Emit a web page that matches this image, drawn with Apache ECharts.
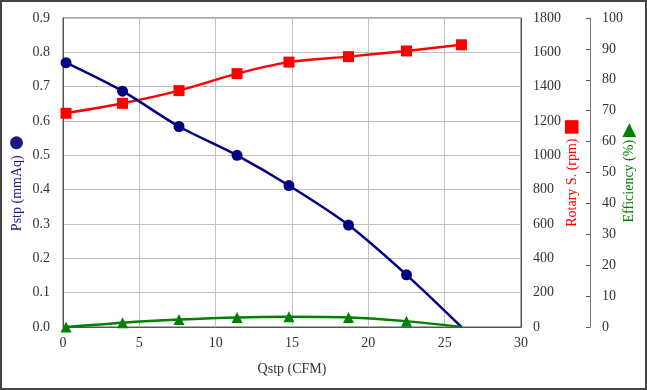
<!DOCTYPE html>
<html><head><meta charset="utf-8">
<script src="https://cdn.jsdelivr.net/npm/echarts@6/dist/echarts.min.js"></script>
<style>html,body{margin:0;padding:0;background:#fff}#c{width:647px;height:390px}</style>
</head><body><div id="c"></div>
<script>
const qstp = [0.2, 3.9, 7.6, 11.4, 14.8, 18.7, 22.5, 26.1];
const pstp = [0.77, 0.687, 0.584, 0.5, 0.412, 0.297, 0.152, 0];
const rpm = [1245, 1303, 1377, 1476, 1543, 1575, 1608, 1644];
const eff = [0, 1.4, 2.4, 3.1, 3.3, 3.1, 1.9, 0];
const noMarkerLast = [false, false, false, false, false, false, false, true];

const font = 'Liberation Serif';
const chart = echarts.init(document.getElementById('c'));
function pts(ys, hideLast) {
  return qstp.map((x, i) => {
    const d = { value: [x, ys[i]] };
    if (hideLast && noMarkerLast[i]) d.symbol = 'none';
    return d;
  });
}
const lab = { color: '#333', fontFamily: font, fontSize: 14 };
function rich(col, mSize) {
  return {
    t: { color: col, fontFamily: font, fontSize: 14, lineHeight: 16, verticalAlign: 'middle' },
    m: { color: col, fontSize: mSize, lineHeight: 16, verticalAlign: 'middle' }
  };
}
chart.setOption({
  animation: false,
  grid: { left: 63, right: 126, top: 18, bottom: 63, show: true, borderColor: '#555', borderWidth: 1, containLabel: false, outerBoundsMode: 'none' },
  graphic: [{ type: 'rect', shape: { x: 1, y: 1, width: 645, height: 388 }, style: { fill: 'none', stroke: '#444', lineWidth: 2 }, silent: true }],
  xAxis: {
    type: 'value', min: 0, max: 30, interval: 5,
    name: 'Qstp (CFM)', nameLocation: 'middle', nameGap: 35, nameMoveOverlap: false,
    nameTextStyle: { color: '#333', fontFamily: font, fontSize: 14 },
    axisLine: { lineStyle: { color: '#555' } }, axisTick: { show: false },
    axisLabel: Object.assign({ margin: 9 }, lab),
    splitLine: { lineStyle: { color: '#c0c0c0' } }
  },
  yAxis: [
    {
      type: 'value', min: 0, max: 0.9, interval: 0.1, position: 'left',
      name: '{t|Pstp (mmAq)} {m|●}', nameLocation: 'middle', nameGap: 38, nameRotate: 90, nameMoveOverlap: false,
      nameTextStyle: { padding: [0, 20, 0, 0], rich: rich('#1a1a80', 30) },
      axisLine: { show: true, lineStyle: { color: '#555' } }, axisTick: { show: false },
      axisLabel: Object.assign({ margin: 13, formatter: v => v.toFixed(1) }, lab),
      splitLine: { lineStyle: { color: '#c0c0c0' } }
    },
    {
      type: 'value', min: 0, max: 1800, interval: 200, position: 'right',
      name: '{t|Rotary S. (rpm)} {m|■}', nameLocation: 'middle', nameGap: 43, nameRotate: 90, nameMoveOverlap: false,
      nameTextStyle: { rich: rich('#ff0000', 28) },
      axisLine: { show: true, lineStyle: { color: '#555' } }, axisTick: { show: false },
      axisLabel: Object.assign({ margin: 12, formatter: v => String(v) }, lab),
      splitLine: { show: false }
    },
    {
      type: 'value', min: 0, max: 100, interval: 10, position: 'right', offset: 69,
      name: '{t|Efficiency (%)} {m|▶}', nameLocation: 'middle', nameGap: 31, nameRotate: 90, nameMoveOverlap: false,
      nameTextStyle: { rich: rich('#008000', 18) },
      axisLine: { show: true, lineStyle: { color: '#777' } },
      axisTick: { show: true, inside: true, length: 4, lineStyle: { color: '#555' } },
      axisLabel: Object.assign({ margin: 12 }, lab),
      splitLine: { show: false }
    }
  ],
  series: [
    {
      type: 'line', yAxisIndex: 1, data: pts(rpm, false), smooth: 0.3,
      symbol: 'rect', symbolSize: 11,
      lineStyle: { color: '#ff0000', width: 2.5 }, itemStyle: { color: '#ff0000' }, z: 3
    },
    {
      type: 'line', yAxisIndex: 0, data: pts(pstp, true), smooth: 0.3,
      symbol: 'circle', symbolSize: 11,
      lineStyle: { color: '#000080', width: 2.5 }, itemStyle: { color: '#000080' }, z: 4
    },
    {
      type: 'line', yAxisIndex: 2, data: pts(eff, true), smooth: 0.3,
      symbol: 'triangle', symbolSize: 11,
      lineStyle: { color: '#008000', width: 2.5 }, itemStyle: { color: '#008000' }, z: 5
    }
  ]
});
</script></body></html>
